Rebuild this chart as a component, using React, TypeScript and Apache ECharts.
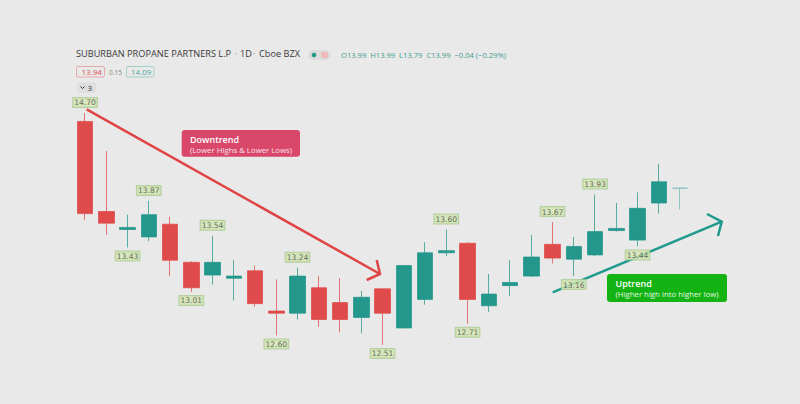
import React, { useEffect, useRef } from "react";
import * as echarts from "echarts";

const opens = [14.62, 13.77, 13.60, 13.53, 13.65, 13.29, 13.17, 13.14, 13.21, 12.83, 12.81, 13.05, 12.91, 12.77, 13.04, 12.67, 12.94, 13.38, 13.47, 12.88, 13.07, 13.16, 13.46, 13.32, 13.36, 13.59, 13.50, 13.85, 13.99];
const closes = [13.75, 13.66, 13.62, 13.74, 13.31, 13.05, 13.29, 13.16, 12.90, 12.81, 13.16, 12.75, 12.75, 12.96, 12.81, 13.26, 13.38, 13.40, 12.94, 12.99, 13.10, 13.34, 13.33, 13.44, 13.58, 13.61, 13.80, 14.05, 13.99];
const lows = [13.69, 13.55, 13.43, 13.49, 13.16, 13.01, 13.08, 12.93, 12.87, 12.60, 12.75, 12.68, 12.63, 12.62, 12.51, 12.67, 12.89, 13.35, 12.71, 12.82, 12.97, 13.15, 13.28, 13.16, 13.35, 13.58, 13.44, 13.75, 13.79];
const highs = [14.70, 14.34, 13.74, 13.87, 13.72, 13.30, 13.54, 13.31, 13.26, 13.13, 13.24, 13.16, 13.14, 13.02, 13.04, 13.26, 13.48, 13.60, 13.48, 13.18, 13.31, 13.55, 13.67, 13.53, 13.93, 13.85, 13.95, 14.22, 13.99];

const pivotHighIdx = [0, 3, 6, 10, 17, 22, 24];
const pivotHighVal = [14.70, 13.87, 13.54, 13.24, 13.60, 13.67, 13.93];
const pivotLowIdx = [2, 5, 9, 14, 18, 23, 26];
const pivotLowVal = [13.43, 13.01, 12.60, 12.51, 12.71, 13.16, 13.44];

const TEAL = "#23978b";
const RED = "#df4b4a";
const LAST = "#8cc6be";

export default function App() {
  const ref = useRef<HTMLDivElement>(null);
  useEffect(() => {
    if (!ref.current) return;
    const chart = echarts.init(ref.current, undefined, { renderer: "svg" });
    const cats = opens.map((_, i) => String(i + 1));
    const candleData = opens.map((o, i) => {
      const item: any = { value: [o, closes[i], lows[i], highs[i]] };
      if (i === opens.length - 1) {
        item.itemStyle = { color: LAST, color0: LAST, borderColor: LAST, borderColor0: LAST };
      }
      return item;
    });
    const labelBase = {
      show: true,
      fontSize: 7.6,
      fontFamily: "DejaVu Sans",
      color: "#3f4a36",
      backgroundColor: "#d2e5b3",
      borderColor: "#a9c98f",
      borderWidth: 1,
      padding: [1, 1, 0, 1],
      formatter: (p: any) => p.value[1].toFixed(2),
    };
    const txt = (x: number, y: number, text: string, font: any) => ({
      type: "text",
      x,
      y,
      silent: true,
      style: { text, fontFamily: "Open Sans", ...font },
    });
    chart.setOption({
      animation: false,
      backgroundColor: "#e9e9e9",
      grid: { left: 74.4, width: 616.25, top: 102.4, height: 254.2 },
      xAxis: { type: "category", data: cats, show: false, boundaryGap: true },
      yAxis: { type: "value", min: 12.4, max: 14.8, show: false, splitLine: { show: false } },
      series: [
        {
          type: "candlestick",
          data: candleData,
          barWidth: 16,
          itemStyle: {
            color: TEAL,
            color0: RED,
            borderColor: "rgba(35,151,139,0.75)",
            borderColor0: "rgba(223,75,74,0.75)",
            borderWidth: 1,
          },
        },
        {
          type: "scatter",
          symbolSize: 0,
          data: pivotHighIdx.map((i, k) => [i, pivotHighVal[k]]),
          label: { ...labelBase, position: "top", distance: 6 },
          z: 5,
        },
        {
          type: "scatter",
          symbolSize: 0,
          data: pivotLowIdx.map((i, k) => [i, pivotLowVal[k]]),
          label: { ...labelBase, position: "bottom", distance: 4 },
          z: 5,
        },
      ],
      graphic: [
        txt(76, 49, "SUBURBAN PROPANE PARTNERS L.P", { fontSize: 9.2, fill: "#3a3a3a" }),
        txt(235, 49, "·", { fontSize: 9, fill: "#888" }),
        txt(240, 49, "1D", { fontSize: 9.2, fill: "#3a3a3a" }),
        txt(253, 49, "·", { fontSize: 9, fill: "#888" }),
        txt(259, 49, "Cboe BZX", { fontSize: 9.2, fill: "#3a3a3a" }),
        { type: "rect", shape: { x: 308, y: 50, width: 23, height: 10, r: 5 }, style: { fill: "#dcdcdc" } },
        { type: "circle", shape: { cx: 314, cy: 55, r: 2.3 }, style: { fill: TEAL } },
        { type: "rect", shape: { x: 321, y: 52, width: 7, height: 6, r: 2 }, style: { fill: "#f0b8b8" } },
        txt(341, 50.5, "O13.99  H13.99  L13.79  C13.99  −0.04 (−0.29%)", { fontSize: 7.6, fill: "#3f9b90" }),
        { type: "rect", shape: { x: 76.5, y: 66.5, width: 28, height: 10.5, r: 1.5 }, style: { fill: "none", stroke: "#e8a9a9", lineWidth: 1 } },
        txt(81.5, 67.5, "13.94", { fontSize: 8, fill: "#d9534f" }),
        txt(109, 68.5, "0.15", { fontSize: 6.5, fill: "#888" }),
        { type: "rect", shape: { x: 126.5, y: 66.5, width: 27.5, height: 10.5, r: 1.5 }, style: { fill: "none", stroke: "#9fd0c8", lineWidth: 1 } },
        txt(131, 67.5, "14.09", { fontSize: 8, fill: "#4aa69b" }),
        { type: "rect", shape: { x: 77, y: 82.5, width: 19, height: 10.5, r: 1.5 }, style: { fill: "#dfdfdf" } },
        { type: "polyline", shape: { points: [[80.5, 86.5], [82.5, 88.5], [84.5, 86.5]] }, style: { stroke: "#333", lineWidth: 1, fill: "none" } },
        txt(87.5, 83.5, "3", { fontSize: 8, fill: "#333" }),
        // Downtrend arrow
        { type: "line", shape: { x1: 86.7, y1: 109.3, x2: 380, y2: 274 }, style: { stroke: "#e04444", lineWidth: 2.5 } },
        { type: "polyline", shape: { points: [[366.7, 280], [380, 274], [376.7, 260]] }, style: { stroke: "#e04444", lineWidth: 2.5, fill: "none" } },
        // Uptrend arrow
        { type: "line", shape: { x1: 552.7, y1: 292.3, x2: 721.7, y2: 221.7 }, style: { stroke: "#1f9a8c", lineWidth: 2.5 } },
        { type: "polyline", shape: { points: [[707, 214], [721.7, 221.7], [718, 236]] }, style: { stroke: "#1f9a8c", lineWidth: 2.5, fill: "none" } },
        // Downtrend box
        { type: "rect", shape: { x: 181.7, y: 130, width: 118.3, height: 26.7, r: 3 }, style: { fill: "#d9476b" } },
        txt(190, 134.5, "Downtrend", { fontSize: 9, fontWeight: 600, fill: "#ffffff" }),
        txt(190, 145.5, "(Lower Highs & Lower Lows)", { fontSize: 7.8, fill: "#fbe3ea" }),
        // Uptrend box
        { type: "rect", shape: { x: 607, y: 274, width: 120, height: 28, r: 3 }, style: { fill: "#12b312" } },
        txt(615.5, 278.5, "Uptrend", { fontSize: 9, fontWeight: 600, fill: "#ffffff" }),
        txt(615.5, 290, "(Higher high into higher low)", { fontSize: 7.8, fill: "#e6f7e6" }),
      ],
    });
    return () => chart.dispose();
  }, []);
  return <div ref={ref} style={{ position: "fixed", left: 0, top: 0, width: 800, height: 404 }} />;
}
